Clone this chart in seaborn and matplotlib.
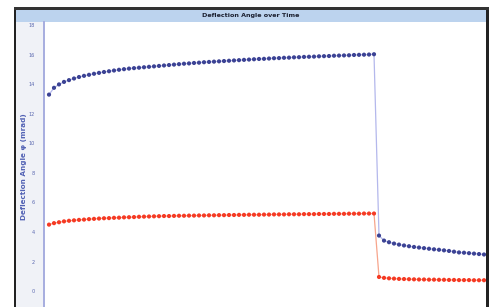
import numpy as np
import pandas as pd
import matplotlib
matplotlib.use("Agg")
import matplotlib.pyplot as plt
from matplotlib.patches import Rectangle
import seaborn as sns

# ---- data ----
time_idx = list(range(88))
blue_values = [
    13.29, 13.75, 13.98, 14.15, 14.27, 14.38, 14.48, 14.56, 14.63, 14.70,
    14.76, 14.82, 14.87, 14.92, 14.97, 15.01, 15.05, 15.08, 15.11, 15.14,
    15.17, 15.20, 15.23, 15.26, 15.29, 15.32, 15.35, 15.38, 15.40, 15.43,
    15.45, 15.48, 15.50, 15.52, 15.54, 15.56, 15.58, 15.60, 15.62, 15.64,
    15.66, 15.68, 15.70, 15.71, 15.73, 15.75, 15.76, 15.78, 15.79, 15.81,
    15.82, 15.84, 15.85, 15.86, 15.88, 15.89, 15.90, 15.92, 15.93, 15.94,
    15.95, 15.97, 15.98, 15.99, 16.00, 16.02,
    3.76, 3.42, 3.31, 3.22, 3.15, 3.09, 3.04, 2.99, 2.95, 2.91,
    2.87, 2.83, 2.80, 2.76, 2.72, 2.67, 2.62, 2.60, 2.57, 2.54,
    2.51, 2.48,
]
red_values = [
    4.50, 4.60, 4.66, 4.72, 4.76, 4.79, 4.82, 4.84, 4.87, 4.89,
    4.91, 4.93, 4.94, 4.96, 4.97, 4.99, 5.00, 5.01, 5.03, 5.04,
    5.05, 5.06, 5.07, 5.08, 5.08, 5.09, 5.10, 5.10, 5.11, 5.11,
    5.12, 5.12, 5.13, 5.13, 5.14, 5.14, 5.15, 5.15, 5.16, 5.16,
    5.17, 5.17, 5.17, 5.18, 5.18, 5.19, 5.19, 5.19, 5.20, 5.20,
    5.20, 5.21, 5.21, 5.21, 5.22, 5.22, 5.22, 5.23, 5.23, 5.23,
    5.24, 5.24, 5.24, 5.25, 5.25, 5.25,
    0.96, 0.90, 0.87, 0.85, 0.83, 0.82, 0.81, 0.80, 0.79, 0.79,
    0.78, 0.78, 0.77, 0.77, 0.76, 0.76, 0.75, 0.75, 0.75, 0.74,
    0.74, 0.74,
]
y_ticks = [0, 2, 4, 6, 8, 10, 12, 14, 16, 18]
title_text = "Deflection Angle over Time"
ylabel_text = "Deflection Angle φ (mrad)"

df = pd.DataFrame({
    "time": time_idx * 2,
    "value": blue_values + red_values,
    "series": ["blue"] * len(blue_values) + ["red"] * len(red_values),
})

sns.set_style("white")
plt.rcParams["font.family"] = ["DejaVu Sans"]

W, H = 494, 307
fig = plt.figure(figsize=(W / 100, H / 100), dpi=100)
fig.patch.set_facecolor("white")

def fx(px):
    return px / W

def fy(py):
    return 1 - py / H

def add_rect(x0, y0, x1, y1, color, z):
    fig.patches.append(Rectangle((fx(x0), fy(y1)), fx(x1) - fx(x0), fy(y0) - fy(y1),
                                 transform=fig.transFigure, facecolor=color,
                                 edgecolor="none", zorder=z))

# panels and frame (pixel coordinates, y from top)
add_rect(16, 10, 486, H, "#f0f2f7", -3)
add_rect(16, 10, 486, 22, "#bcd3ee", -2)
add_rect(13.5, 7.5, 16, H, "#222222", 5)
add_rect(486, 7.5, 488.5, H, "#222222", 5)
add_rect(13.5, 7.5, 488.5, 10, "#333333", 5)

fig.text(fx(251), fy(15.5), title_text, ha="center", va="center", fontsize=4.6,
         color="#1c2030", fontweight="bold")
fig.text(fx(24), fy(167), ylabel_text, ha="center", va="center", rotation=90,
         fontsize=5.2, color="#5262b4", fontweight="bold")

ax = fig.add_axes([fx(43.5), 0, fx(486) - fx(43.5), fy(22)])
ax.set_zorder(1)
ax.set_facecolor("white")

line_pal = {"blue": "#b4b8ec", "red": "#f7a58c"}
mark_pal = {"blue": "#3c4394", "red": "#f53a24"}

sns.lineplot(data=df, x="time", y="value", hue="series", palette=line_pal,
             linewidth=0.9, legend=False, ax=ax, zorder=2)
sns.scatterplot(data=df, x="time", y="value", hue="series", palette=mark_pal,
                s=9, marker="o", linewidth=0, legend=False, ax=ax, zorder=3)

ax.set_xlim(-1.1, 87.4)
ax.set_ylim(-1.07, 18.2)
ax.set_yticks(y_ticks)
ax.set_yticklabels([str(t) for t in y_ticks], fontsize=3.6, color="#5a68b0")
ax.tick_params(axis="y", length=0, pad=6)
ax.set_xticks([])
ax.set_xlabel("")
ax.set_ylabel("")
for side in ["top", "right", "bottom"]:
    ax.spines[side].set_visible(False)
ax.spines["left"].set_color("#a6addf")
ax.spines["left"].set_linewidth(1.4)

fig.savefig("out.png", dpi=100)
